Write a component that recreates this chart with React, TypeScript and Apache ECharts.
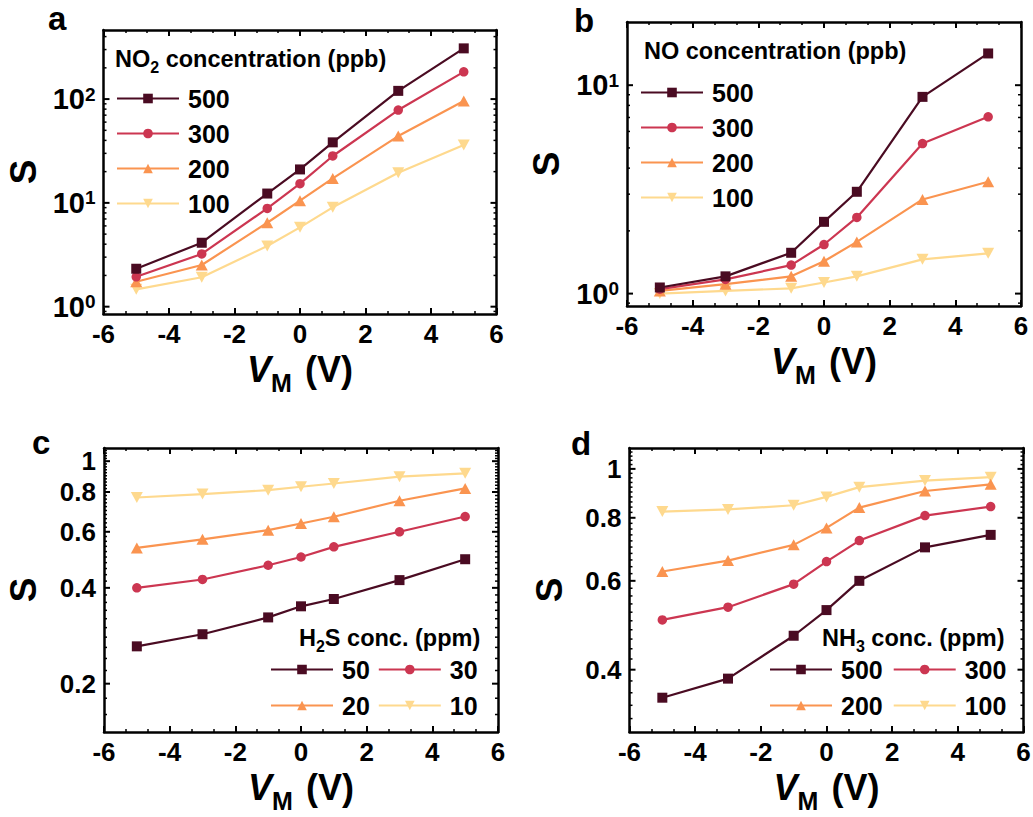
import React, { useEffect, useRef } from 'react';
import * as echarts from 'echarts';

const FONT = 'Arial, "Liberation Sans", Helvetica, sans-serif';

// ---------- data ----------
const vm = [-5, -3, -1, 0, 1, 3, 5];

// (a) NO2, ppb
const no2Names = ['500', '300', '200', '100'];
const no2_500 = [2.32, 4.13, 12.3, 21.0, 38.3, 120, 308];
const no2_300 = [1.94, 3.22, 8.85, 15.3, 28.3, 78.4, 183];
const no2_200 = [1.74, 2.52, 6.44, 10.5, 17.2, 44, 95.7];
const no2_100 = [1.47, 1.92, 3.84, 5.81, 9.06, 19.5, 36.1];

// (b) NO, ppb
const noNames = ['500', '300', '200', '100'];
const no_500 = [1.07, 1.21, 1.57, 2.21, 3.08, 8.79, 14.2];
const no_300 = [1.05, 1.17, 1.37, 1.72, 2.32, 5.25, 7.05];
const no_200 = [1.03, 1.11, 1.21, 1.43, 1.77, 2.83, 3.44];
const no_100 = [1.0, 1.03, 1.06, 1.13, 1.21, 1.46, 1.56];

// (c) H2S, ppm
const h2sNames = ['50', '30', '20', '10'];
const h2s_50 = [0.262, 0.286, 0.323, 0.35, 0.369, 0.423, 0.492];
const h2s_30 = [0.4, 0.425, 0.471, 0.5, 0.538, 0.6, 0.67];
const h2s_20 = [0.534, 0.568, 0.607, 0.637, 0.669, 0.751, 0.821];
const h2s_10 = [0.769, 0.788, 0.811, 0.831, 0.851, 0.894, 0.916];

// (d) NH3, ppm
const nh3Names = ['500', '300', '200', '100'];
const nh3_500 = [0.352, 0.384, 0.467, 0.525, 0.6, 0.699, 0.74];
const nh3_300 = [0.502, 0.532, 0.591, 0.655, 0.721, 0.808, 0.842];
const nh3_200 = [0.626, 0.658, 0.707, 0.764, 0.838, 0.904, 0.932];
const nh3_100 = [0.823, 0.831, 0.847, 0.88, 0.92, 0.948, 0.963];

// axis ranges
const yRangeA = [0.85, 463];
const yRangeB = [0.872, 20.1];
const yRangeC = [0.141, 1.1];
const yRangeD = [0.301, 1.1];

// y tick values and labels
const aMajor = [1, 10, 100];
const aMajorExp = ['0', '1', '2'];
const aMinor = [0.9, 2, 3, 4, 5, 6, 7, 8, 9, 20, 30, 40, 50, 60, 70, 80, 90, 200, 300, 400];
const bMajor = [1, 10];
const bMajorExp = ['0', '1'];
const bMinor = [0.9, 2, 3, 4, 5, 6, 7, 8, 9];
const cMajor = [0.2, 0.4, 0.6, 0.8, 1];
const cMajorLabels = ['0.2', '0.4', '0.6', '0.8', '1'];
const dMajor = [0.4, 0.6, 0.8, 1];
const dMajorLabels = ['0.4', '0.6', '0.8', '1'];
// minor ticks every 0.02 (panel c from 0.16, panel d from 0.32, up to 1.08)
const minorSteps = (from: number, to: number, majors: number[]) => {
  const out: number[] = [];
  for (let k = Math.round(from * 50); k <= Math.round(to * 50); k++) {
    const v = k / 50;
    if (!majors.some((m) => Math.abs(m - v) < 1e-6)) out.push(v);
  }
  return out;
};
const cMinor = minorSteps(0.16, 1.08, cMajor);
const dMinor = minorSteps(0.32, 1.08, dMajor);

// ---------- styles ----------
const COLORS = ['#4a0b22', '#cc3651', '#fa9450', '#fed98e'];
const DOWN_TRI = 'path://M0,0L12,0L6,11Z';
const SYMBOLS = ['rect', 'circle', 'triangle', DOWN_TRI];
const SYMBOL_SIZES: any[] = [10, 9.5, [12, 11], [12, 11]];

const GRIDS = [
  { left: 103.5, top: 30, width: 393, height: 284 },
  { left: 627, top: 22, width: 394, height: 284 },
  { left: 104, top: 448, width: 394, height: 284 },
  { left: 629.5, top: 448, width: 394, height: 284 },
];

const bold = { fontWeight: 'bold' as const, fontFamily: FONT, color: '#000' };

function xAxes(i: number) {
  const common = {
    type: 'value',
    gridIndex: i,
    min: -6,
    max: 6,
    interval: 2,
    axisLine: { show: true, onZero: false, lineStyle: { color: '#000', width: 2.5 } },
    axisTick: { show: true, inside: true, length: 6, lineStyle: { color: '#000', width: 2 } },
    minorTick: { show: true, splitNumber: 3, length: 3, lineStyle: { color: '#000', width: 1.5 } },
    splitLine: { show: false },
    minorSplitLine: { show: false },
  };
  return [
    {
      ...common,
      position: 'bottom',
      axisLabel: { ...bold, fontSize: 26, margin: 7, formatter: (v: number) => String(v) },
      name: '{i|V}{s|M}{n| (V)}',
      nameLocation: 'middle',
      nameGap: 37,
      nameTextStyle: {
        rich: {
          i: { ...bold, fontSize: 36, fontStyle: 'italic', verticalAlign: 'top', lineHeight: 36 },
          s: { ...bold, fontSize: 25, verticalAlign: 'bottom', lineHeight: 44 },
          n: { ...bold, fontSize: 36, verticalAlign: 'top', lineHeight: 36, padding: [0, 0, 0, 3] },
        },
      },
    },
    { ...common, position: 'top', axisLabel: { show: false } },
  ];
}

function yAxes(i: number, range: number[]) {
  const common = {
    type: 'log',
    logBase: 10,
    gridIndex: i,
    min: range[0],
    max: range[1],
    axisLine: { show: true, onZero: false, lineStyle: { color: '#000', width: 2.5 } },
    axisTick: { show: false },
    minorTick: { show: false },
    axisLabel: { show: false },
    splitLine: { show: false },
  };
  return [
    {
      ...common,
      position: 'left',
      name: 'S',
      nameLocation: 'middle',
      nameGap: 62,
      nameTextStyle: { ...bold, fontSize: 37 },
    },
    { ...common, position: 'right' },
  ];
}

function lineSeries(i: number, names: string[], values: number[][]) {
  return names.map((name, k) => ({
    type: 'line',
    name,
    xAxisIndex: 2 * i,
    yAxisIndex: 2 * i,
    data: vm.map((x, j) => [x, values[k][j]]),
    symbol: SYMBOLS[k],
    symbolSize: SYMBOL_SIZES[k],
    showAllSymbol: true,
    lineStyle: { width: 2.2, color: COLORS[k] },
    itemStyle: { color: COLORS[k] },
    z: 5 - k,
    silent: true,
  }));
}

function tickSeries(i: number, majors: number[], minors: number[], labels: string[], power: boolean) {
  const items = [
    ...majors.map((v, k) => [0, v, 1, k]),
    ...minors.map((v) => [0, v, 0, -1]),
  ];
  return {
    type: 'custom',
    xAxisIndex: 2 * i,
    yAxisIndex: 2 * i,
    silent: true,
    clip: false,
    z: 10,
    data: items,
    encode: { x: 0, y: 1 },
    renderItem: (params: any, api: any) => {
      const cs = params.coordSys;
      const y = api.coord([0, api.value(1)])[1];
      const major = api.value(2) === 1;
      const len = major ? 6 : 3;
      const lw = major ? 2 : 1.5;
      const children: any[] = [
        { type: 'line', shape: { x1: cs.x, y1: y, x2: cs.x + len, y2: y }, style: { stroke: '#000', lineWidth: lw } },
        {
          type: 'line',
          shape: { x1: cs.x + cs.width, y1: y, x2: cs.x + cs.width - len, y2: y },
          style: { stroke: '#000', lineWidth: lw },
        },
      ];
      if (major) {
        const idx = api.value(3);
        const lab = labels[idx];
        children.push({
          type: 'text',
          x: cs.x - 8,
          y,
          style: power
            ? {
                text: `{b|10}{p|${lab}}`,
                align: 'right',
                verticalAlign: 'middle',
                rich: {
                  b: { fontSize: 29, fontWeight: 'bold', fontFamily: FONT, fill: '#000', verticalAlign: 'top', lineHeight: 29 },
                  p: { fontSize: 19, fontWeight: 'bold', fontFamily: FONT, fill: '#000', verticalAlign: 'top', lineHeight: 19 },
                },
              }
            : {
                text: lab,
                align: 'right',
                verticalAlign: 'middle',
                fontSize: 26,
                fontWeight: 'bold',
                fontFamily: FONT,
                fill: '#000',
              },
        });
      }
      return { type: 'group', children };
    },
  };
}

const legendText = { ...bold, fontSize: 25, padding: [0, 0, 0, 4] };
const legendCommon = {
  itemWidth: 62,
  itemHeight: 12,
  selectedMode: false,
  padding: 0,
  textStyle: legendText,
};

const subRich = {
  t: { ...bold, fontSize: 23.5, verticalAlign: 'top', lineHeight: 23.5 },
  s: { ...bold, fontSize: 16, verticalAlign: 'bottom', lineHeight: 28 },
};

export default function App() {
  const ref = useRef<HTMLDivElement>(null);
  useEffect(() => {
    if (!ref.current) return;
    const chart = echarts.init(ref.current, null, { renderer: 'svg' });
    const option: any = {
      animation: false,
      backgroundColor: '#fff',
      textStyle: { fontFamily: FONT },
      grid: GRIDS.map((g) => ({ ...g, containLabel: false, outerBoundsMode: 'none' })),
      xAxis: [...xAxes(0), ...xAxes(1), ...xAxes(2), ...xAxes(3)],
      yAxis: [...yAxes(0, yRangeA), ...yAxes(1, yRangeB), ...yAxes(2, yRangeC), ...yAxes(3, yRangeD)],
      title: [
        { text: 'a', left: 48, top: 2, padding: 0, textStyle: { ...bold, fontSize: 33 } },
        { text: 'b', left: 574, top: 4, padding: 0, textStyle: { ...bold, fontSize: 33 } },
        { text: 'c', left: 32, top: 426, padding: 0, textStyle: { ...bold, fontSize: 33 } },
        { text: 'd', left: 571, top: 427, padding: 0, textStyle: { ...bold, fontSize: 33 } },
        { text: '{t|NO}{s|2}{t| concentration (ppb)}', left: 115, top: 47, padding: 0, textStyle: { rich: subRich } },
        { text: '{t|NO concentration (ppb)}', left: 644, top: 39, padding: 0, textStyle: { rich: subRich } },
        { text: '{t|H}{s|2}{t|S conc. (ppm)}', left: 299, top: 626, padding: 0, textStyle: { rich: subRich } },
        { text: '{t|NH}{s|3}{t| conc. (ppm)}', left: 822, top: 626, padding: 0, textStyle: { rich: subRich } },
      ],
      legend: [
        { ...legendCommon, orient: 'vertical', left: 116, top: 86, itemGap: 10, data: no2Names },
        { ...legendCommon, orient: 'vertical', left: 640, top: 80, itemGap: 10, data: noNames },
        { ...legendCommon, orient: 'horizontal', left: 270, top: 657, itemGap: 8, data: h2sNames.slice(0, 2) },
        { ...legendCommon, orient: 'horizontal', left: 270, top: 693, itemGap: 8, data: h2sNames.slice(2, 4) },
        { ...legendCommon, orient: 'horizontal', left: 769, top: 657, itemGap: 10, data: nh3Names.slice(0, 2) },
        { ...legendCommon, orient: 'horizontal', left: 769, top: 693, itemGap: 10, data: nh3Names.slice(2, 4) },
      ],
      series: [
        ...lineSeries(0, no2Names, [no2_500, no2_300, no2_200, no2_100]),
        ...lineSeries(1, noNames, [no_500, no_300, no_200, no_100]),
        ...lineSeries(2, h2sNames, [h2s_50, h2s_30, h2s_20, h2s_10]),
        ...lineSeries(3, nh3Names, [nh3_500, nh3_300, nh3_200, nh3_100]),
        tickSeries(0, aMajor, aMinor, aMajorExp, true),
        tickSeries(1, bMajor, bMinor, bMajorExp, true),
        tickSeries(2, cMajor, cMinor, cMajorLabels, false),
        tickSeries(3, dMajor, dMinor, dMajorLabels, false),
      ],
    };
    chart.setOption(option);
    return () => chart.dispose();
  }, []);
  return (
    <div
      ref={ref}
      style={{ position: 'absolute', left: 0, top: 0, width: 1033, height: 817, background: '#fff' }}
    />
  );
}
